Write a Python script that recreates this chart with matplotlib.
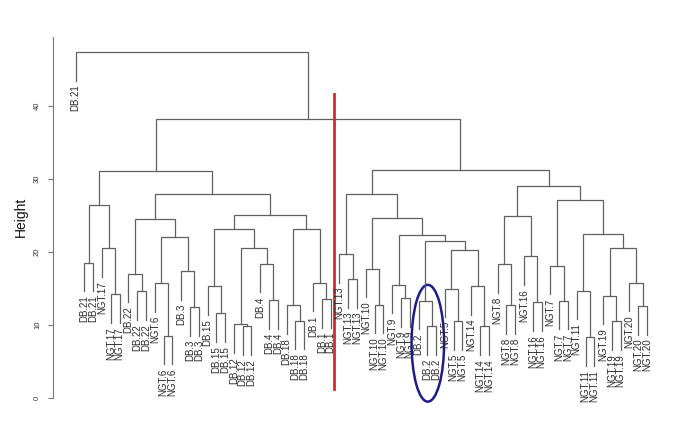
import matplotlib
matplotlib.use("Agg")
import matplotlib.pyplot as plt
from matplotlib.patches import Ellipse

# ---------------- data ----------------
leaf_labels = (["DB.21"] * 3 + ["NGT.17"] * 3 + ["DB.22"] * 3 + ["NGT.6"] * 3 +
               ["DB.3"] * 3 + ["DB.15"] * 3 + ["DB.12"] * 3 + ["DB.4"] * 3 +
               ["DB.18"] * 3 + ["DB.1"] * 3 + ["NGT.13"] * 3 + ["NGT.10"] * 3 +
               ["NGT.9"] * 3 + ["DB.2"] * 3 + ["NGT.5"] * 3 + ["NGT.14"] * 3 +
               ["NGT.8"] * 3 + ["NGT.16"] * 3 + ["NGT.7"] * 3 + ["NGT.11"] * 3 +
               ["NGT.19"] * 3 + ["NGT.20"] * 3)

# merges: (name, left, right, height); int = leaf index in plotting order
merges = [
    ("DB21p", 1, 2, 18.5), ("NGT17p", 4, 5, 14.2), ("NGT17", 3, "NGT17p", 20.5),
    ("C1", "DB21p", "NGT17", 26.5),
    ("DB22p", 7, 8, 14.6), ("DB22", 6, "DB22p", 17.0),
    ("NGT6p", 10, 11, 8.5), ("NGT6", 9, "NGT6p", 15.7),
    ("DB3p", 13, 14, 12.4), ("DB3", 12, "DB3p", 17.4),
    ("C2", "NGT6", "DB3", 22.1), ("C3", "DB22", "C2", 24.5),
    ("DB15p", 16, 17, 11.6), ("DB15", 15, "DB15p", 15.3),
    ("DB12p", 19, 20, 9.8), ("DB12", 18, "DB12p", 10.1),
    ("DB4p", 22, 23, 13.4), ("DB4", 21, "DB4p", 18.4),
    ("C4", "DB12", "DB4", 20.5), ("C5", "DB15", "C4", 23.1),
    ("DB18p", 25, 26, 10.6), ("DB18", 24, "DB18p", 12.7),
    ("DB1p", 28, 29, 13.5), ("DB1", 27, "DB1p", 15.8),
    ("C6", "DB18", "DB1", 23.2), ("C7", "C5", "C6", 25.1),
    ("C8", "C3", "C7", 28.0), ("L", "C1", "C8", 31.1),
    ("NGT13p", 31, 32, 16.3), ("NGT13", 30, "NGT13p", 19.7),
    ("NGT10p", 34, 35, 12.8), ("NGT10", 33, "NGT10p", 17.7),
    ("NGT9p", 37, 38, 13.7), ("NGT9", 36, "NGT9p", 15.5),
    ("DB2p", 40, 41, 9.8), ("DB2", 39, "DB2p", 13.3),
    ("NGT5p", 43, 44, 10.5), ("NGT5", 42, "NGT5p", 15.0),
    ("NGT14p", 46, 47, 9.8), ("NGT14", 45, "NGT14p", 15.3),
    ("R1", "NGT5", "NGT14", 20.3), ("R2", "DB2", "R1", 21.5),
    ("R3", "NGT9", "R2", 22.3), ("R4", "NGT10", "R3", 24.6),
    ("R5", "NGT13", "R4", 27.9),
    ("NGT8p", 49, 50, 12.7), ("NGT8", 48, "NGT8p", 18.3),
    ("NGT16p", 52, 53, 13.1), ("NGT16", 51, "NGT16p", 19.4),
    ("R6", "NGT8", "NGT16", 24.9),
    ("NGT7p", 55, 56, 13.3), ("NGT7", 54, "NGT7p", 18.1),
    ("NGT11p", 58, 59, 8.3), ("NGT11", 57, "NGT11p", 14.7),
    ("NGT19p", 61, 62, 10.5), ("NGT19", 60, "NGT19p", 14.0),
    ("NGT20p", 64, 65, 12.6), ("NGT20", 63, "NGT20p", 15.8),
    ("R7", "NGT19", "NGT20", 20.6), ("R8", "NGT11", "R7", 22.5),
    ("R9", "NGT7", "R8", 27.1), ("R10", "R6", "R9", 29.0),
    ("R", "R5", "R10", 31.3),
    ("LR", "L", "R", 38.2),
    ("root", 0, "LR", 47.4),
]

y_ticks = [0, 10, 20, 30, 40]
cut_position = 29.35      # between DB.1 and NGT.13
cut_range = (1.2, 41.6)
circle_center = (40.06, 7.5)
circle_size = (3.7, 16.0)

# ---------------- plot ----------------
fig = plt.figure(figsize=(6.85, 4.32), dpi=100)
ax = fig.add_axes([53 / 685, 7 / 432, 617 / 685, 410 / 432])
ax.set_xlim(-2.582, 67.61)
ax.set_ylim(-3.70, 52.47)

heights = [m[3] for m in merges]
hang = 0.1 * (max(heights) - min(heights))
line_col = "#606060"
lw = 0.9

node_x = {}
node_h = {}
for name, a, b, h in merges:
    xs, bottoms = [], []
    for c in (a, b):
        if isinstance(c, int):
            xs.append(c)
            bottoms.append(h - hang)
            ax.text(c, h - hang - 0.55, leaf_labels[c], rotation=90,
                    rotation_mode="anchor", ha="right", va="center",
                    fontsize=7, family="Liberation Sans", color="#2a2a2a")
        else:
            xs.append(node_x[c])
            bottoms.append(node_h[c])
    ax.plot([xs[0], xs[0], xs[1], xs[1]], [bottoms[0], h, h, bottoms[1]],
            color=line_col, lw=lw, solid_joinstyle="miter")
    node_x[name] = (xs[0] + xs[1]) / 2
    node_h[name] = h

# red cut line
ax.plot([cut_position, cut_position], list(cut_range), color="#d42a2a", lw=2.0)

# blue ellipse
ax.add_patch(Ellipse(circle_center, circle_size[0], circle_size[1], fill=False,
                     edgecolor="#1c1c8a", lw=1.8, clip_on=False))

# axes styling
for s in ("top", "right", "bottom"):
    ax.spines[s].set_visible(False)
ax.spines["left"].set_bounds(0, 49.4)
ax.spines["left"].set_color("#777777")
ax.spines["left"].set_linewidth(0.8)
ax.set_xticks([])
ax.set_yticks(y_ticks)
ax.set_yticklabels([str(t) for t in y_ticks], rotation=90, va="center",
                   family="Liberation Sans", fontsize=5.5, color="#333333")
ax.tick_params(axis="y", length=3.6, width=0.8, color="#777777", pad=5)
ax.set_ylabel("Height", family="Liberation Sans", fontsize=10, color="#111111")
ax.yaxis.set_label_coords(-0.041, 0.507)

fig.savefig("out.png", dpi=100)
